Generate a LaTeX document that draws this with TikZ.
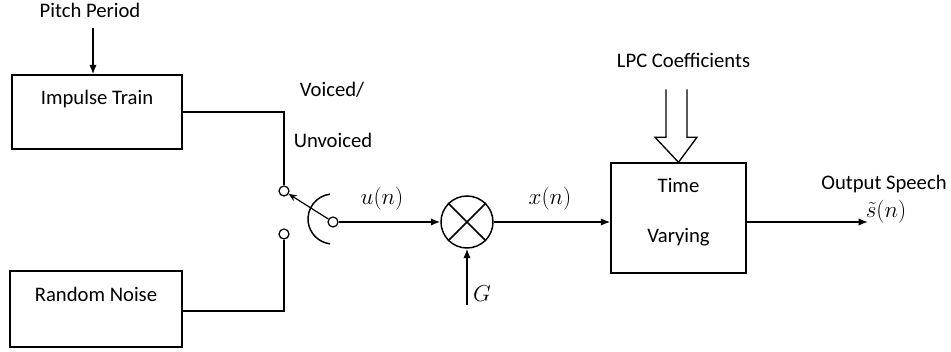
\documentclass[tikz,border=0pt]{standalone}
\usepackage{fontspec}
\setmainfont{Carlito}
\usetikzlibrary{arrows.meta, positioning, calc}

\begin{document}
\begin{tikzpicture}[x=0.75pt,y=-0.75pt,line width=1.1pt,
	>={Latex[length=7pt,width=5.5pt]},
	font=\fontsize{15.5}{18}\selectfont,
	blk/.style={draw,inner sep=0pt},
	lbl/.style={anchor=base,inner sep=0pt},
	mlbl/.style={lbl,font=\fontsize{18}{20}\selectfont},
	contact/.style={draw,circle,fill=white,line width=0.9pt,minimum size=7.5pt,inner sep=0pt}]
\useasboundingbox (0,0) rectangle (951,352);
% blocks
\node[blk,minimum width=127.5pt,minimum height=55.5pt] (imp) at (97,112) {};
\node[blk,minimum width=129pt,minimum height=57pt] (noise) at (96,309) {};
\node[blk,minimum width=101.25pt,minimum height=82.5pt] (tv) at (678.5,218) {};
\node[draw,circle,minimum size=39pt,inner sep=0pt] (mult) at (467,222) {};
\node[lbl] (impt) at (97,105) {Impulse Train};
\node[lbl] (noiset) at (96,302) {Random Noise};
\node[lbl] (tvt1) at (678.5,193) {Time};
\node[lbl] (tvt2) at (678.5,243) {Varying};
% switch
\node[contact] (cup) at (284,191) {};
\node[contact] (clow) at (284,234) {};
\node[contact] (pivot) at (333,222) {};
\coordinate (arcc) at (333,219);
\draw ($(arcc)+(97:18.75pt)$) arc[start angle=97,end angle=263,radius=18.75pt];
\draw[-{Stealth[length=6pt,width=5pt]},line width=0.9pt] (pivot) -- (cup);
\draw (imp.east) -| (cup.north);
\draw (noise.east |- 0,311) -| (clow.south);
% labels
\node[lbl] (pitch) at (90,18) {Pitch Period};
\node[lbl] (lpc) at (683.5,68) {LPC Coefficients};
\node[lbl] (voiced) at (332,97) {Voiced/};
\node[lbl] (unvoiced) at (333,148) {Unvoiced};
\node[lbl] (outsp) at (884,190) {Output Speech};
\node[mlbl] (sn) at (886,218) {$\tilde{s}(n)$};
\node[mlbl] (un) at (382,205) {$u(n)$};
\node[mlbl] (xn) at (550,205) {$x(n)$};
\node[mlbl] (gl) at (482,302) {$G$};
% connectors
\coordinate (pp) at (93,28);
\draw[->] (pp) -- (pp |- imp.north);
\draw[->] (pivot) -- (mult);
\draw (mult.north west) -- (mult.south east) (mult.north east) -- (mult.south west);
\draw[->] (mult.east) -- (mult.east -| tv.west);
\coordinate (gin) at (467,305);
\draw[->] (gin) -- (mult.south);
\coordinate (outp) at (868,222);
\draw[->] (tv.east |- mult) -- (outp);
% LPC double arrow
\draw[line width=1pt] ($(tv.north)+(-12.5,-73)$) -- ($(tv.north)+(-12.5,-25)$)
	-- ($(tv.north)+(-23.5,-25)$) -- (tv.north) -- ($(tv.north)+(18.5,-25)$)
	-- ($(tv.north)+(8.5,-25)$) -- ($(tv.north)+(8.5,-73)$);
\end{tikzpicture}
\end{document}
